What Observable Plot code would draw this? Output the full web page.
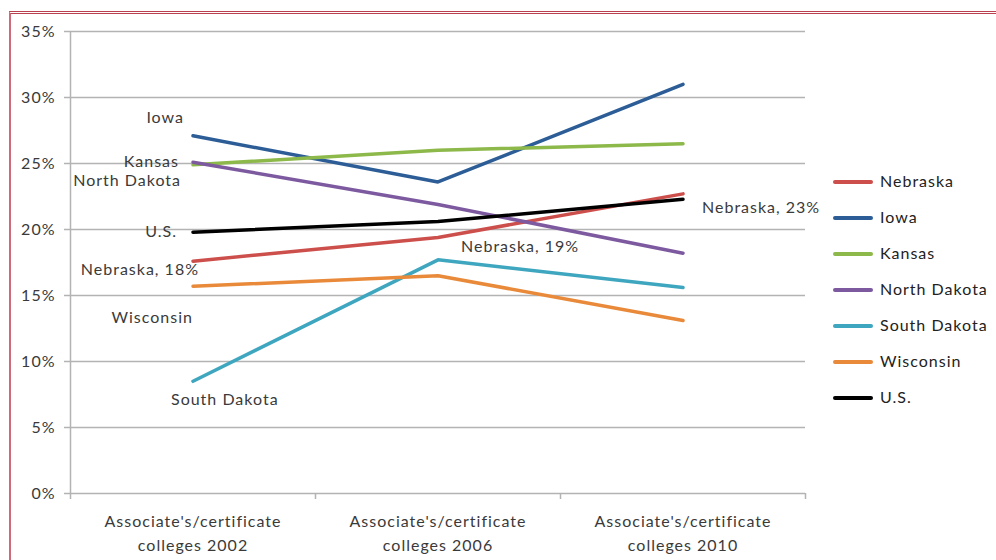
<!DOCTYPE html>
<html>
<head>
<meta charset="utf-8">
<script src="https://cdn.jsdelivr.net/npm/d3@7"></script>
<script src="https://cdn.jsdelivr.net/npm/@observablehq/plot@0.6"></script>
<style>
  body { margin: 0; background: #fff; }
  #wrap { position: relative; width: 996px; height: 560px; overflow: hidden; background: #fff; font-family: Lato, "Open Sans", sans-serif; }
  #frame { position: absolute; left: 9px; top: 11px; width: 1000px; height: 560px; border-top: 3px double #b8404f; border-left: 2px solid #d06a78; box-sizing: border-box; }
  #chart { position: absolute; left: 0; top: 0; }
  #legend { position: absolute; left: 833px; top: 170px; }
  .item { position: absolute; left: 0; height: 24px; white-space: nowrap; font-size: 16px; letter-spacing: 1px; color: #222; }
  .item .sw { position: absolute; left: 0; top: 10px; width: 40px; height: 4px; border-radius: 2px; }
  .item .lb { position: absolute; left: 47px; top: 1px; }
</style>
</head>
<body>
<div id="wrap">
  <div id="frame"></div>
  <div id="chart"></div>
  <div id="legend"></div>
</div>
<script>
// ---- data ----
const categories = [
  "Associate's/certificate\ncolleges 2002",
  "Associate's/certificate\ncolleges 2006",
  "Associate's/certificate\ncolleges 2010"
];
const seriesNames = ["Nebraska", "Iowa", "Kansas", "North Dakota", "South Dakota", "Wisconsin", "U.S."];
const nebraska    = [17.6, 19.4, 22.7];
const iowa        = [27.1, 23.6, 31.0];
const kansas      = [24.9, 26.0, 26.5];
const northDakota = [25.1, 21.9, 18.2];
const southDakota = [8.5, 17.7, 15.6];
const wisconsin   = [15.7, 16.5, 13.1];
const us          = [19.8, 20.6, 22.3];
const yTicks = [0, 5, 10, 15, 20, 25, 30, 35];
const seriesColors = ["#cc4f4c", "#2c5d96", "#8db84a", "#7d5aa0", "#3fa6bf", "#e98a3a", "#000000"];

// ---- build table ----
const seriesValues = [nebraska, iowa, kansas, northDakota, southDakota, wisconsin, us];
const rows = [];
seriesNames.forEach((s, k) => seriesValues[k].forEach((v, i) => rows.push({series: s, i, value: v})));
const pick = (s, i) => rows.filter(d => d.series === s && d.i === i);
const nebLabel = d => `${d.series}, ${Math.round(d.value)}%`;

const grid = "#b3b3b3";
const txt = "#3a3a3a";
const font = 16;

const chart = Plot.plot({
  width: 996,
  height: 560,
  marginLeft: 70,
  marginRight: 191,
  marginTop: 31,
  marginBottom: 67,
  style: {fontFamily: 'Lato, "Open Sans", sans-serif', fontSize: font + "px", letterSpacing: "1px", color: txt, background: "transparent", overflow: "visible"},
  x: {type: "linear", domain: [-0.5, 2.5], axis: null, label: null},
  y: {domain: [0, 35], axis: null, label: null},
  color: {domain: seriesNames, range: seriesColors},
  marks: [
    Plot.ruleY(yTicks, {stroke: grid, strokeWidth: 1.5}),
    Plot.ruleX([-0.5], {y1: 0, y2: 35, stroke: grid, strokeWidth: 1.5}),
    Plot.axisY({ticks: yTicks, tickFormat: d => d + "%", tickSize: 6, tickPadding: 9, stroke: grid, strokeWidth: 1.5, fill: txt, fontSize: font, label: null}),
    Plot.axisX({ticks: [-0.5, 0.5, 1.5, 2.5], tickSize: 6, tickFormat: () => "", stroke: grid, strokeWidth: 1.5, label: null}),
    Plot.axisX({ticks: [0, 1, 2], tickSize: 0, tickPadding: 16, tickFormat: i => categories[i], lineHeight: 1.5, fill: txt, fontSize: font, label: null}),
    Plot.line(rows, {x: "i", y: "value", z: "series", stroke: "series", strokeWidth: 3.5, strokeLinecap: "round", strokeLinejoin: "miter"}),
    // annotations anchored on data points
    Plot.text(pick("Iowa", 0), {x: "i", y: "value", text: "series", textAnchor: "end", dx: -9, dy: -18, fill: txt, fontSize: font}),
    Plot.text(pick("Kansas", 0), {x: "i", y: "value", text: "series", textAnchor: "end", dx: -14, dy: -3, fill: txt, fontSize: font}),
    Plot.text(pick("North Dakota", 0), {x: "i", y: "value", text: "series", textAnchor: "end", dx: -12, dy: 19, fill: txt, fontSize: font}),
    Plot.text(pick("U.S.", 0), {x: "i", y: "value", text: "series", textAnchor: "end", dx: -16, dy: 0, fill: txt, fontSize: font}),
    Plot.text(pick("Nebraska", 0), {x: "i", y: "value", text: nebLabel, textAnchor: "end", dx: 6, dy: 9, fill: txt, fontSize: font}),
    Plot.text(pick("Wisconsin", 0), {x: "i", y: "value", text: "series", textAnchor: "end", dx: 0, dy: 32, fill: txt, fontSize: font}),
    Plot.text(pick("South Dakota", 0), {x: "i", y: "value", text: "series", textAnchor: "start", dx: -22, dy: 19, fill: txt, fontSize: font}),
    Plot.text(pick("Nebraska", 1), {x: "i", y: "value", text: nebLabel, textAnchor: "start", dx: 23, dy: 9, fill: txt, fontSize: font}),
    Plot.text(pick("Nebraska", 2), {x: "i", y: "value", text: nebLabel, textAnchor: "start", dx: 19, dy: 14, fill: txt, fontSize: font})
  ]
});
document.getElementById("chart").appendChild(chart);

// ---- legend ----
const legend = document.getElementById("legend");
seriesNames.forEach((s, k) => {
  const it = document.createElement("div");
  it.className = "item";
  it.style.top = (k * 36) + "px";
  it.innerHTML = `<span class="sw" style="background:${seriesColors[k]}"></span><span class="lb">${s}</span>`;
  legend.appendChild(it);
});
</script>
</body>
</html>
